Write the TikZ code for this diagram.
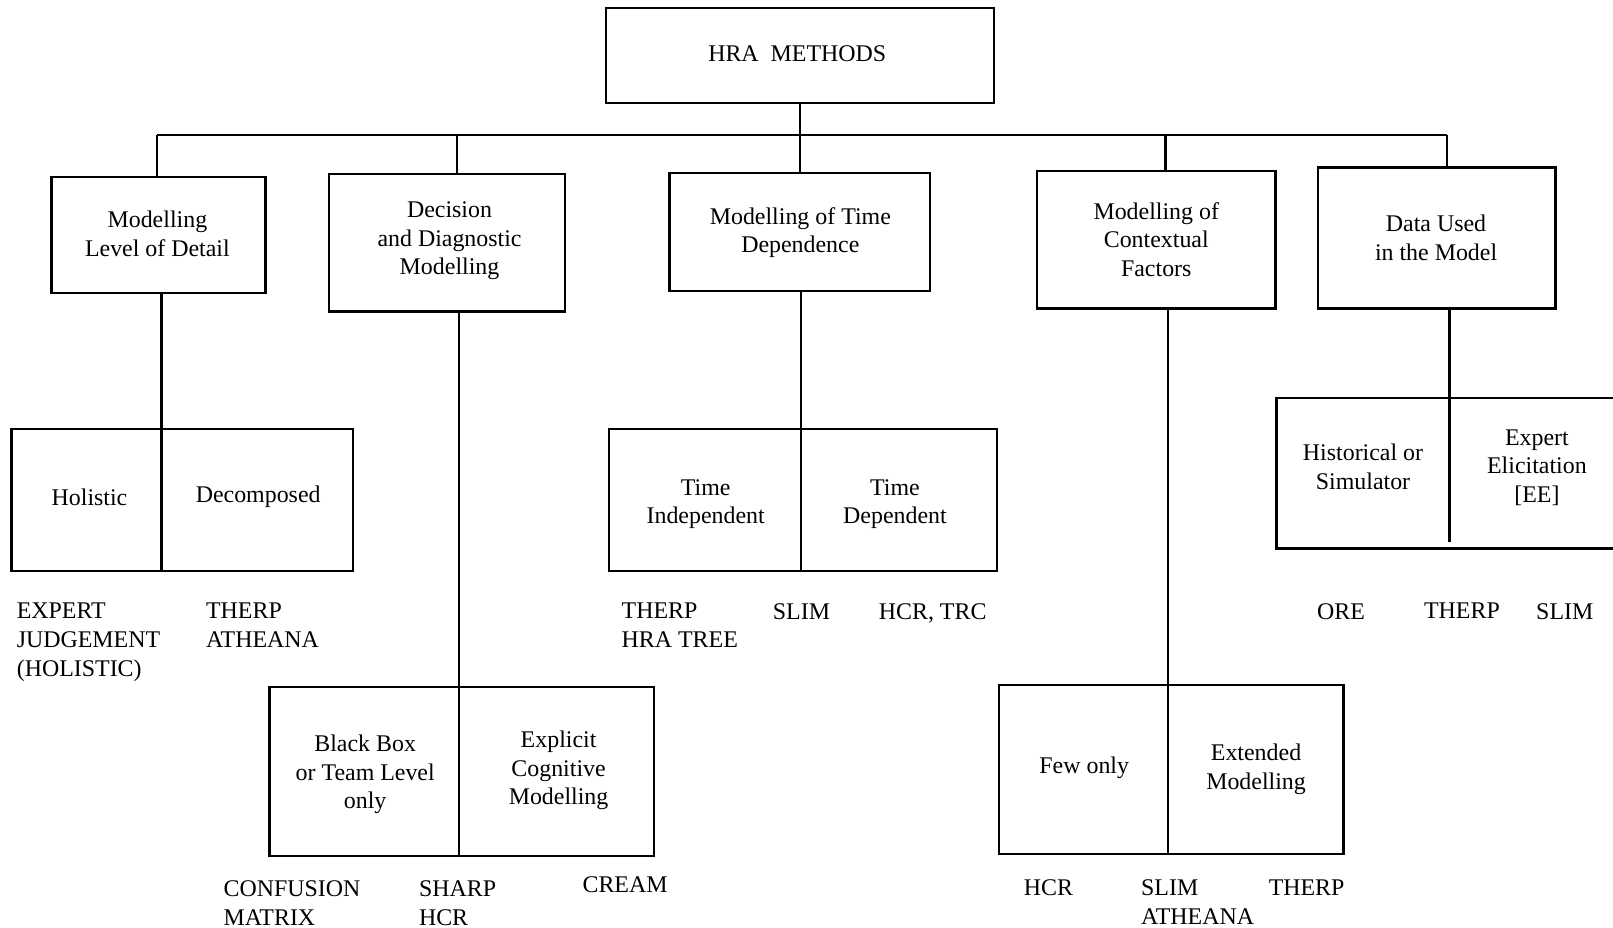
\documentclass[tikz,border=0pt]{standalone}
\usepackage{fontspec}
\setmainfont{Liberation Serif}
\usetikzlibrary{fit}
\begin{document}
\begin{tikzpicture}[x=0.020574cm, y=-0.020574cm,
  every node/.style={font=\fontsize{13.6}{16.3}\selectfont, inner sep=0pt},
  box/.style={draw, line width=1.4pt, inner sep=0pt},
  wire/.style={line width=1.2pt},
  txt/.style={align=center},
  lbl/.style={align=left, anchor=north west}]

\useasboundingbox (0,0) rectangle (1568,902);
\clip (0,0) rectangle (1568,902);

% root
\node[box, fit={(589,8) (966,100)}] (hra) {};
\node[txt] (hrat) at (775,52) {HRA\hspace{0.5em}METHODS};

% first level
\node[box, fit={(50,172) (258,285)}] (lod) {};
\node[txt] (lodt) at (153,227) {Modelling\\Level of Detail};
\node[box, fit={(320,169) (549,303)}] (ddm) {};
\node[txt] (ddmt) at (437,234) {Decision\\and Diagnostic\\Modelling};
\node[box, fit={(651,168) (904,283)}] (mtd) {};
\node[txt] (mtdt) at (778,226) {Modelling of Time\\Dependence};
\node[box, fit={(1008,166) (1240,300)}] (mcf) {};
\node[txt] (mcft) at (1124,233) {Modelling of\\Contextual\\Factors};
\node[box, fit={(1281,163) (1512,300)}] (dum) {};
\node[txt] (dumt) at (1396,231) {Data Used\\in the Model};

% bus
\coordinate (b1) at (153,131);
\coordinate (b2) at (444,131);
\coordinate (b3) at (778,131);
\coordinate (b4) at (1133,131);
\coordinate (b5) at (1407,131);
\draw[wire] (b1) -- (b5);
\draw[wire] (hra.south) -- (hra.south |- b3);
\draw[wire] (b1) -- (b1 |- lod.north);
\draw[wire] (b2) -- (b2 |- ddm.north);
\draw[wire] (b3) -- (b3 |- mtd.north);
\draw[wire] (b4) -- (b4 |- mcf.north);
\draw[wire] (b5) -- (b5 |- dum.north);

% second level: level of detail
\node[box, fit={(11,417) (343,555)}] (ld) {};
\node[txt] (hol) at (87,483) {Holistic};
\node[txt] (dcp) at (251,483) {Decomposed};
\coordinate (d1) at (157,0);
\draw[wire] (lod.south -| d1) -- (d1 |- ld.south);

% second level: decision and diagnostic
\node[box, fit={(262,668) (636,832)}] (bb) {};
\node[txt] (bbt) at (355,753) {Black Box\\or Team Level\\only};
\node[txt] (ecm) at (543,749) {Explicit\\Cognitive\\Modelling};
\coordinate (d2) at (446,0);
\draw[wire] (ddm.south -| d2) -- (d2 |- bb.south);

% second level: time dependence
\node[box, fit={(592,417) (969,555)}] (td) {};
\node[txt] (tin) at (686,490) {Time\\Independent};
\node[txt] (tdp) at (870,490) {Time\\Dependent};
\coordinate (d3) at (779,0);
\draw[wire] (mtd.south -| d3) -- (d3 |- td.south);

% second level: contextual factors
\node[box, fit={(971,666) (1306,830)}] (cf) {};
\node[txt] (few) at (1054,746) {Few only};
\node[txt] (ext) at (1221,748) {Extended\\Modelling};
\coordinate (d4) at (1135,0);
\draw[wire] (mcf.south -| d4) -- (d4 |- cf.south);

% second level: data used
\node[box, fit={(1241,387) (1600,533)}] (du) {};
\node[txt] (his) at (1325,453.5) {Historical or\\Simulator};
\node[txt] (eel) at (1494,454.5) {Expert\\Elicitation\\{}[EE]};
\coordinate (d5) at (1409,527);
\draw[wire] (dum.south -| d5) -- (d5);

% methods under each category
\node[lbl] (m1) at (16,586) {EXPERT\\JUDGEMENT\\(HOLISTIC)};
\node[lbl] (m2) at (200,586) {THERP\\ATHEANA};
\node[lbl] (m3) at (604,586) {THERP\\HRA TREE};
\node[lbl] (m4) at (751,586) {SLIM};
\node[lbl] (m5) at (854,586) {HCR, TRC};
\node[lbl] (m6) at (1280,586) {ORE};
\node[lbl] (m7) at (1384,586) {THERP};
\node[lbl] (m8) at (1493,586) {SLIM};
\node[lbl] (m9) at (217,856) {CONFUSION\\MATRIX};
\node[lbl] (m10) at (407,856) {SHARP\\HCR};
\node[lbl] (m11) at (566,852) {CREAM};
\node[lbl] (m12) at (995,855) {HCR};
\node[lbl] (m13) at (1109,855) {SLIM\\ATHEANA};
\node[lbl] (m14) at (1233,855) {THERP};

\end{tikzpicture}
\end{document}
